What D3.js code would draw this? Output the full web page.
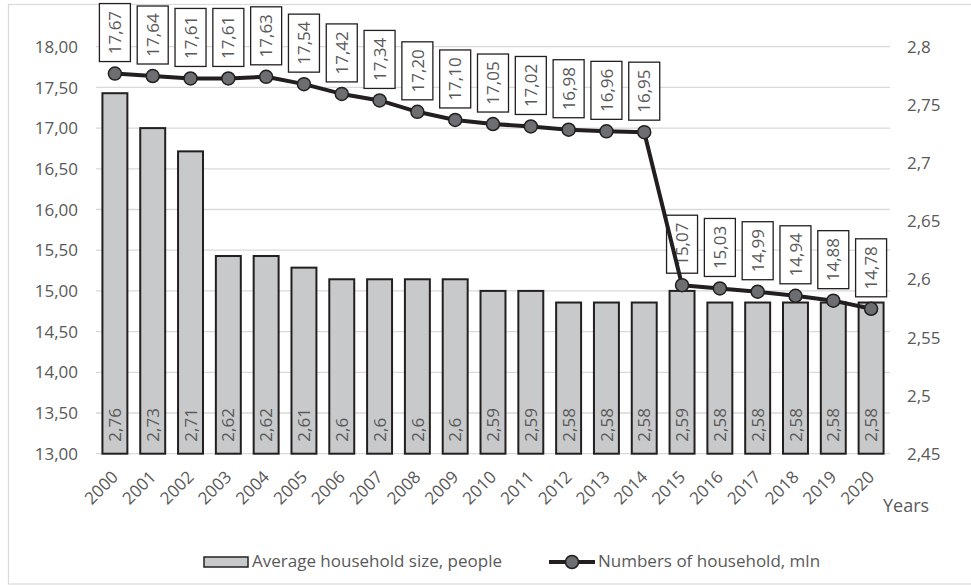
<!DOCTYPE html>
<html>
<head>
<meta charset="utf-8">
<script src="https://cdn.jsdelivr.net/npm/d3@7"></script>
<style>
  html, body { margin: 0; padding: 0; background: #fff; }
  svg { display: block; font-family: "Open Sans", sans-serif; }
</style>
</head>
<body>
<svg id="chart" width="971" height="585"></svg>
<script>
// ---- data ----
const years = ["2000","2001","2002","2003","2004","2005","2006","2007","2008","2009","2010",
               "2011","2012","2013","2014","2015","2016","2017","2018","2019","2020"];
const avgHouseholdSize = [2.76,2.73,2.71,2.62,2.62,2.61,2.6,2.6,2.6,2.6,2.59,
                          2.59,2.58,2.58,2.58,2.59,2.58,2.58,2.58,2.58,2.58];
const numHouseholds = [17.67,17.64,17.61,17.61,17.63,17.54,17.42,17.34,17.20,17.10,17.05,
                       17.02,16.98,16.96,16.95,15.07,15.03,14.99,14.94,14.88,14.78];
const leftTicks = [13,13.5,14,14.5,15,15.5,16,16.5,17,17.5,18];
const rightTicks = [2.45,2.5,2.55,2.6,2.65,2.7,2.75,2.8];
const barLabel = "Average household size, people";
const lineLabel = "Numbers of household, mln";
const xTitle = "Years";

// ---- layout ----
const svg = d3.select("#chart");
const plot = { left: 96, right: 890, top: 46.7, bottom: 453.7 };
const textColor = "#595959";
const gridColor = "#d9d9d9";
const dark = "#231f20";
const barFill = "#c8c9cb";
const markerFill = "#6d6e71";
const fs = 17;

const x = d3.scaleBand().domain(years).range([plot.left, plot.right])
  .paddingInner(0.34).paddingOuter(0.17);
const yL = d3.scaleLinear().domain([13, 18]).range([plot.bottom, plot.top]);
const yR = d3.scaleLinear().domain([2.45, 2.8]).range([plot.bottom, plot.top]);
const comma = s => s.replace(".", ",");
const fmtL = v => comma(d3.format(".2f")(v));
const fmtR = v => comma(d3.format("~g")(v));

// border
svg.append("rect").attr("x", 8.5).attr("y", 4.5).attr("width", 975).attr("height", 579.5)
  .attr("fill", "none").attr("stroke", gridColor).attr("stroke-width", 1.2);

// gridlines
svg.append("g").selectAll("line").data(leftTicks).join("line")
  .attr("x1", plot.left).attr("x2", plot.right)
  .attr("y1", d => yL(d)).attr("y2", d => yL(d))
  .attr("stroke", gridColor).attr("stroke-width", 1.3);

// left axis labels
svg.append("g").selectAll("text").data(leftTicks).join("text")
  .attr("x", 78).attr("y", d => yL(d)).attr("dy", "0.36em")
  .attr("text-anchor", "end").attr("font-size", fs).attr("fill", textColor)
  .text(fmtL);

// right axis labels
svg.append("g").selectAll("text").data(rightTicks).join("text")
  .attr("x", 907).attr("y", d => yR(d)).attr("dy", "0.36em")
  .attr("text-anchor", "start").attr("font-size", fs).attr("fill", textColor)
  .text(fmtR);

// bars
svg.append("g").selectAll("rect").data(avgHouseholdSize).join("rect")
  .attr("x", (d, i) => x(years[i]))
  .attr("y", d => yR(d))
  .attr("width", x.bandwidth())
  .attr("height", d => yR(2.45) - yR(d))
  .attr("fill", barFill).attr("stroke", dark).attr("stroke-width", 2);

// bar labels
svg.append("g").selectAll("text").data(avgHouseholdSize).join("text")
  .attr("transform", (d, i) => `translate(${x(years[i]) + x.bandwidth() / 2},${plot.bottom - 12}) rotate(-90)`)
  .attr("dy", "0.36em").attr("text-anchor", "start")
  .attr("font-size", fs).attr("fill", textColor)
  .text(d => comma(String(d)));

// x tick labels
svg.append("g").selectAll("text").data(years).join("text")
  .attr("transform", d => `translate(${x(d) + x.bandwidth() / 2},${plot.bottom + 20}) rotate(-45)`)
  .attr("dy", "0.36em").attr("text-anchor", "end")
  .attr("font-size", fs).attr("fill", textColor)
  .text(d => d);

// x title
svg.append("text").attr("x", 883).attr("y", 512)
  .attr("font-size", 18).attr("fill", textColor).text(xTitle);

// line data label boxes
const px = i => x(years[i]) + x.bandwidth() / 2;
const boxW = 31, boxH = 58, boxGap = 12;
const lbl = svg.append("g").selectAll("g").data(numHouseholds).join("g");
lbl.append("rect")
  .attr("x", (d, i) => px(i) - boxW / 2)
  .attr("y", d => yL(d) - boxGap - boxH)
  .attr("width", boxW).attr("height", boxH)
  .attr("fill", "#fff").attr("stroke", dark).attr("stroke-width", 1.3);
lbl.append("text")
  .attr("transform", (d, i) => `translate(${px(i)},${yL(d) - boxGap - boxH / 2}) rotate(-90)`)
  .attr("dy", "0.36em").attr("text-anchor", "middle")
  .attr("font-size", fs).attr("fill", textColor)
  .text(d => fmtL(d));

// line
const line = d3.line().x((d, i) => px(i)).y(d => yL(d));
svg.append("path").datum(numHouseholds).attr("d", line)
  .attr("fill", "none").attr("stroke", dark).attr("stroke-width", 4)
  .attr("stroke-linejoin", "round");

// markers
svg.append("g").selectAll("circle").data(numHouseholds).join("circle")
  .attr("cx", (d, i) => px(i)).attr("cy", d => yL(d)).attr("r", 6.5)
  .attr("fill", markerFill).attr("stroke", dark).attr("stroke-width", 1.5);

// legend
const lg = svg.append("g");
lg.append("rect").attr("x", 204).attr("y", 557).attr("width", 44).attr("height", 10)
  .attr("fill", barFill).attr("stroke", dark).attr("stroke-width", 1.5);
lg.append("text").attr("x", 252).attr("y", 567).attr("font-size", fs).attr("fill", textColor)
  .text(barLabel);
lg.append("line").attr("x1", 549).attr("x2", 595).attr("y1", 562).attr("y2", 562)
  .attr("stroke", dark).attr("stroke-width", 4);
lg.append("circle").attr("cx", 572).attr("cy", 562).attr("r", 6.5)
  .attr("fill", markerFill).attr("stroke", dark).attr("stroke-width", 1.5);
lg.append("text").attr("x", 598).attr("y", 567).attr("font-size", fs).attr("fill", textColor)
  .text(lineLabel);
</script>
</body>
</html>
